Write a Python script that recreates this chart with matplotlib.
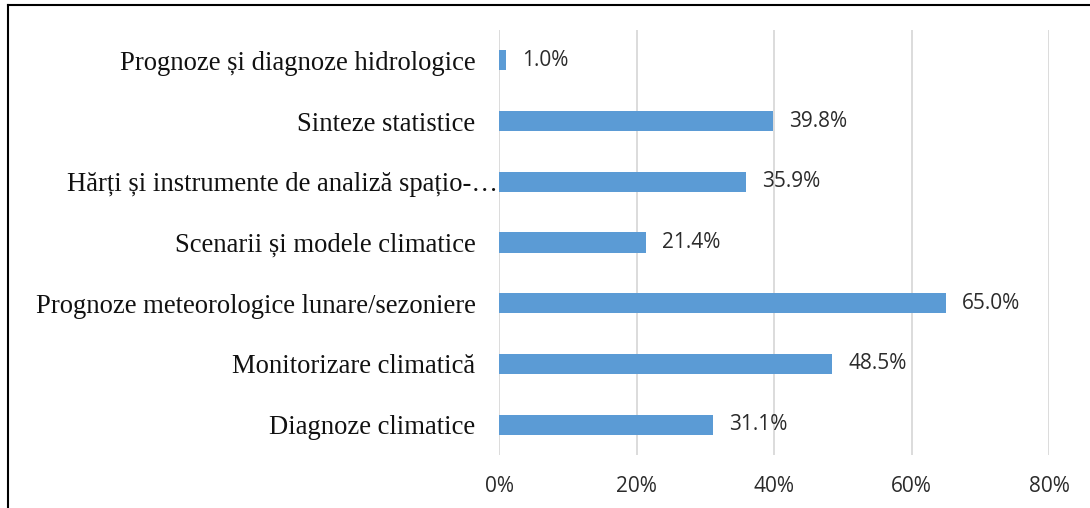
import matplotlib
matplotlib.use("Agg")
import matplotlib.pyplot as plt
from matplotlib.lines import Line2D
from matplotlib.transforms import ScaledTranslation

categories = [
    "Diagnoze climatice",
    "Monitorizare climatică",
    "Prognoze meteorologice lunare/sezoniere",
    "Scenarii și modele climatice",
    "Hărți și instrumente de analiză spațio-…",
    "Sinteze statistice",
    "Prognoze și diagnoze hidrologice",
]
shares = [31.1, 48.5, 65.0, 21.4, 35.9, 39.8, 1.0]
x_ticks = [0, 20, 40, 60, 80]
x_tick_labels = ["0%", "20%", "40%", "60%", "80%"]

BAR_COLOR = "#5B9BD5"
GRID_COLOR = "#D9D9D9"

fig = plt.figure(figsize=(10.9, 5.08), dpi=100)
ax = fig.add_axes([0.4578, 0.1043, 0.5046, 0.8367])

ypos = range(len(categories))
ax.barh(ypos, shares, height=0.33, color=BAR_COLOR, zorder=3)
ax.set_xlim(0, 80)
ax.set_ylim(-0.5, len(categories) - 0.5)

ax.set_xticks(x_ticks)
ax.set_xticklabels(x_tick_labels, fontfamily="Open Sans", fontsize=15, color="#2b2b2b")
ax.set_yticks(list(ypos))
ax.set_yticklabels(categories, fontfamily="Liberation Serif", fontsize=19.2, color="#111111")
ax.tick_params(axis="both", length=0)
ax.tick_params(axis="x", pad=15)
ax.tick_params(axis="y", pad=17)

# the truncated label runs into the plot area
trunc = ax.get_yticklabels()[4]
trunc.set_transform(trunc.get_transform() + ScaledTranslation(0.23, 0, fig.dpi_scale_trans))

ax.grid(axis="x", color=GRID_COLOR, linewidth=1.3, zorder=0)
for side in ax.spines.values():
    side.set_visible(False)

for y, v in zip(ypos, shares):
    ax.annotate(f"{v:.1f}%", (v, y), xytext=(11.5, 0), textcoords="offset points",
                va="center", ha="left", fontfamily="Open Sans", fontsize=15,
                color="#2b2b2b")

# frame around the chart area (top and left edges only)
fig.add_artist(Line2D([8 / 1090, 1], [1 - 5 / 508, 1 - 5 / 508], transform=fig.transFigure,
                      color="black", linewidth=1.5))
fig.add_artist(Line2D([8 / 1090, 8 / 1090], [0, 1 - 5 / 508], transform=fig.transFigure,
                      color="black", linewidth=1.5))

fig.savefig("out.png", dpi=100)
